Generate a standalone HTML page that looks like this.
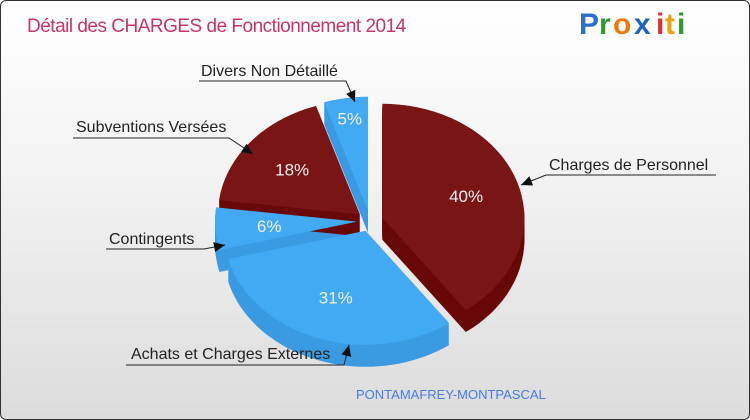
<!DOCTYPE html>
<html><head><meta charset="utf-8"><style>
body{margin:0}
#c{width:748px;height:418px;border:1px solid #333;border-radius:6px;overflow:hidden;background:linear-gradient(#fff 0%,#f3f3f3 40%,#dcdcdc 100%);position:relative;font-family:"Liberation Sans",sans-serif}
</style></head><body>
<div id="c">
<svg id="s" width="748" height="418">
<text x="26" y="31" font-size="19" fill="#c8336a" style="letter-spacing:-0.5px">Détail des CHARGES de Fonctionnement 2014</text>
<g font-size="30" font-weight="bold">
<text x="578" y="33" fill="#2a6fc9">P</text><text x="598" y="33" fill="#2e9a2e">r</text><text x="612" y="33" fill="#f07a10">o</text><text x="633" y="33" fill="#1f62c0">x</text><text x="655" y="33" fill="#e03030">i</text><text x="664" y="33" fill="#f0a010">t</text><text x="676" y="33" fill="#2e9a2e">i</text>
</g>
<g id="pie"></g>
<g id="lab" font-size="16" fill="#222"></g>
<text x="355" y="398" font-size="13" fill="#4a7ae0">PONTAMAFREY-MONTPASCAL</text>
</svg></div>
<script>
const categories=["Charges de Personnel","Achats et Charges Externes","Contingents","Subventions Versées","Divers Non Détaillé"];
const values=[40,31,6,18,5];
const colors=["#7a1515","#42aaf2","#42aaf2","#7a1515","#42aaf2"];
const sides=["#690808","#3a9ae2","#3a9ae2","#690808","#3a9ae2"];
const NS="http://www.w3.org/2000/svg";
const cx=369,cy=220,rx=142,ry=114,depth=22,ex=13;
const total=values.reduce((a,b)=>a+b,0);
function pt(x,y,a){return [x+rx*Math.sin(a),y-ry*Math.cos(a)];}
function sector(x,y,a0,a1){
  let d="M"+x+","+y;const n=40;
  for(let i=0;i<=n;i++){const p=pt(x,y,a0+(a1-a0)*i/n);d+=" L"+p[0].toFixed(1)+","+p[1].toFixed(1);}
  return d+"Z";
}
const pie=document.getElementById('pie');
const slices=[];let acc=0;
values.forEach((v,i)=>{const a0=acc/total*2*Math.PI;acc+=v;const a1=acc/total*2*Math.PI;const m=(a0+a1)/2;
 slices.push({a0,a1,m,x:cx+ex*Math.sin(m),y:cy-ex*0.8*Math.cos(m)});});
slices.forEach((s,i)=>{
  for(let d=depth;d>=1;d-=1){
    const p=document.createElementNS(NS,'path');
    p.setAttribute('d',sector(s.x,s.y+d,s.a0,s.a1));
    p.setAttribute('fill',sides[i]);
    
    
    pie.appendChild(p);
  }
});
slices.forEach((s,i)=>{
  const p=document.createElementNS(NS,'path');
  p.setAttribute('d',sector(s.x,s.y,s.a0,s.a1));
  p.setAttribute('fill',colors[i]);
  
  
  pie.appendChild(p);
  const r=i==4?0.82:0.62;
  const t=document.createElementNS(NS,'text');
  t.setAttribute('x',s.x+rx*r*Math.sin(s.m));
  t.setAttribute('y',s.y-ry*r*Math.cos(s.m)+6);
  t.setAttribute('text-anchor','middle');
  t.setAttribute('font-size','17');
  t.setAttribute('fill','#f0f0f0');
  
  
  t.textContent=values[i]+'%';
  pie.appendChild(t);
});
const lab=document.getElementById('lab');
const labels=[
 {t:categories[0],tx:548,ty:169,line:"M715,174 L545,174 L520,184"},
 {t:categories[1],tx:130,ty:358,line:"M125,364 L343,364 L348,344"},
 {t:categories[2],tx:108,ty:243,line:"M105,248 L203,248 L224,244"},
 {t:categories[3],tx:75,ty:131,line:"M72,137 L228,137 L252,153"},
 {t:categories[4],tx:200,ty:75,line:"M198,80 L345,80 L354,101"}
];
labels.forEach((l,i)=>{
  const p=document.createElementNS(NS,'path');
  p.setAttribute('d',l.line);p.setAttribute('stroke','#222');p.setAttribute('fill','none');
  
  
  lab.appendChild(p);
  const seg=l.line.split(' ');const e=seg[seg.length-1].replace('L','').split(',').map(Number);const b=seg[seg.length-2].replace(/[ML]/,'').split(',').map(Number);
  const ang=Math.atan2(e[1]-b[1],e[0]-b[0]);
  const h=document.createElementNS(NS,'path');
  const L=11,W=5;
  const bx=e[0]-L*Math.cos(ang),by=e[1]-L*Math.sin(ang);
  h.setAttribute('d',`M${e[0]},${e[1]} L${bx+W*Math.sin(ang)},${by-W*Math.cos(ang)} L${bx-W*Math.sin(ang)},${by+W*Math.cos(ang)}Z`);
  h.setAttribute('fill','#111');
  
  
  lab.appendChild(h);
  const t=document.createElementNS(NS,'text');
  t.setAttribute('x',l.tx);t.setAttribute('y',l.ty);
  
  
  t.textContent=l.t;lab.appendChild(t);
});
</script>
</body></html>
